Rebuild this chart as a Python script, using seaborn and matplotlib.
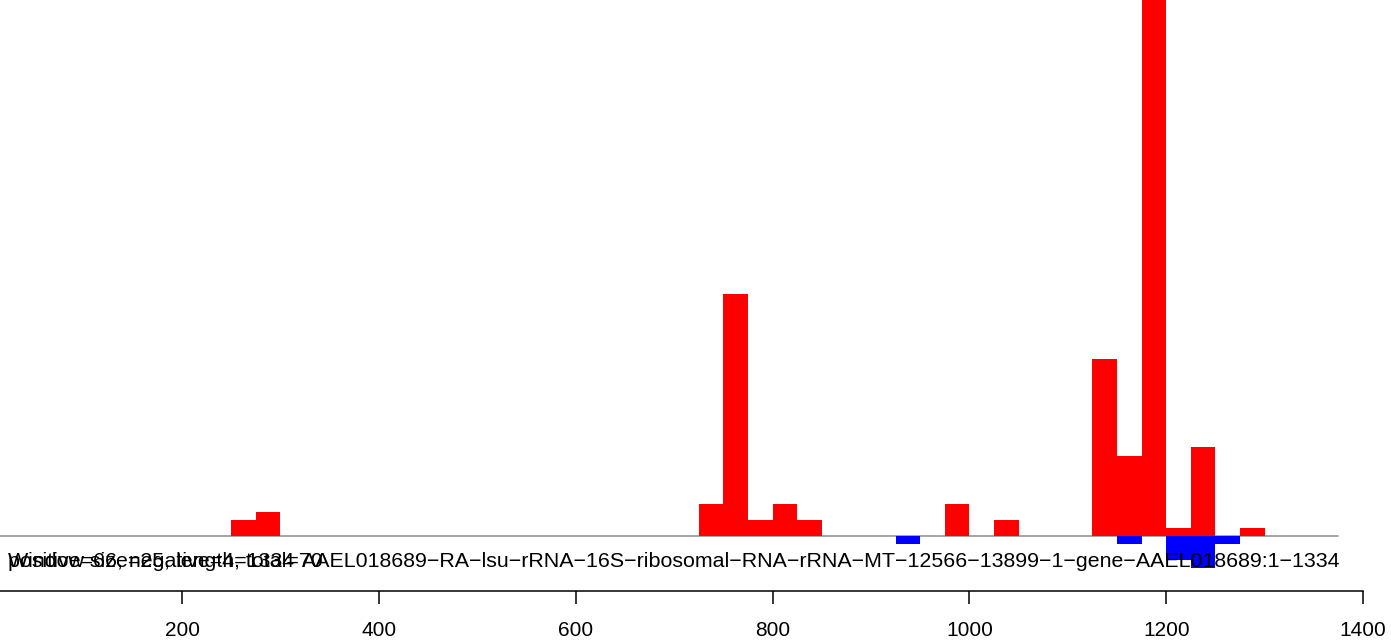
import numpy as np
import matplotlib
matplotlib.use("Agg")
import matplotlib.pyplot as plt
import seaborn as sns


# window start positions (window size 25) and counts per window
POS_STARTS = [250, 275, 725, 750, 775, 800, 825, 975, 1025, 1125, 1150, 1175, 1200, 1225, 1275]
POS_COUNTS = [2, 3, 4, 30, 2, 4, 2, 4, 2, 22, 10, 70, 1, 11, 1]
NEG_STARTS = [925, 1150, 1200, 1225, 1250]
NEG_COUNTS = [1, 1, 3, 4, 1]

WINDOW = 25
SEQ_LENGTH = 1334
X_TICKS = [0, 200, 400, 600, 800, 1000, 1200, 1400]

INFO_1 = "Window size=25, length=1334"
INFO_2 = "positive=66, negative=4, total=70"
TITLE = ("AAEL018689\u2212RA\u2212lsu\u2212rRNA\u221216S\u2212ribosomal\u2212RNA\u2212rRNA\u2212MT"
         "\u221212566\u221213899\u22121\u2212gene\u2212AAEL018689:1\u22121334")


def main():
    sns.set_style("white")
    plt.rcParams["font.family"] = ["Liberation Sans", "DejaVu Sans"]

    fig = plt.figure(figsize=(13.91, 6.43), dpi=100)
    ax = fig.add_axes([0, 0, 1, 1])

    centers_pos = np.array(POS_STARTS) + WINDOW / 2
    centers_neg = np.array(NEG_STARTS) + WINDOW / 2

    sns.histplot(x=centers_pos, weights=POS_COUNTS, binwidth=WINDOW, binrange=(0, 1400),
                 color="#ff0000", alpha=1, linewidth=0, ax=ax)
    sns.histplot(x=centers_neg, weights=-np.array(NEG_COUNTS), binwidth=WINDOW, binrange=(0, 1400),
                 color="#0000ff", alpha=1, linewidth=0, ax=ax)

    # baseline
    ax.plot([0, 1375], [0, 0], color="#8c8c8c", lw=1.1, zorder=0.5)

    ax.set_xlabel("")
    ax.set_ylabel("")

    ax.text(23.2, -3.85, INFO_1, fontsize=15.4, va="baseline", ha="left", color="black")
    ax.text(23.2, -3.85, INFO_2, fontsize=15.4, va="baseline", ha="left", color="black")
    ax.text(1376.6, -3.85, TITLE, fontsize=15.4, va="baseline", ha="right", color="black")

    for side in ["left", "top", "right"]:
        ax.spines[side].set_visible(False)
    ax.spines["bottom"].set_position(("data", -6.83))
    ax.spines["bottom"].set_bounds(0, 1400)
    ax.spines["bottom"].set_linewidth(1.1)
    ax.spines["bottom"].set_color("black")
    ax.set_yticks([])
    ax.set_xticks(X_TICKS)
    ax.set_xticklabels([str(t) for t in X_TICKS])
    ax.tick_params(axis="x", direction="out", length=9.5, width=1.1, pad=12,
                   labelsize=15, colors="black", bottom=True)
    ax.patch.set_alpha(0)

    # limits last, set_xticks would widen them
    ax.set_xlim(15.04, 1428.4)
    ax.set_ylim(-13.29, 66.58)

    fig.savefig("out.png", dpi=100)


if __name__ == "__main__":
    main()
